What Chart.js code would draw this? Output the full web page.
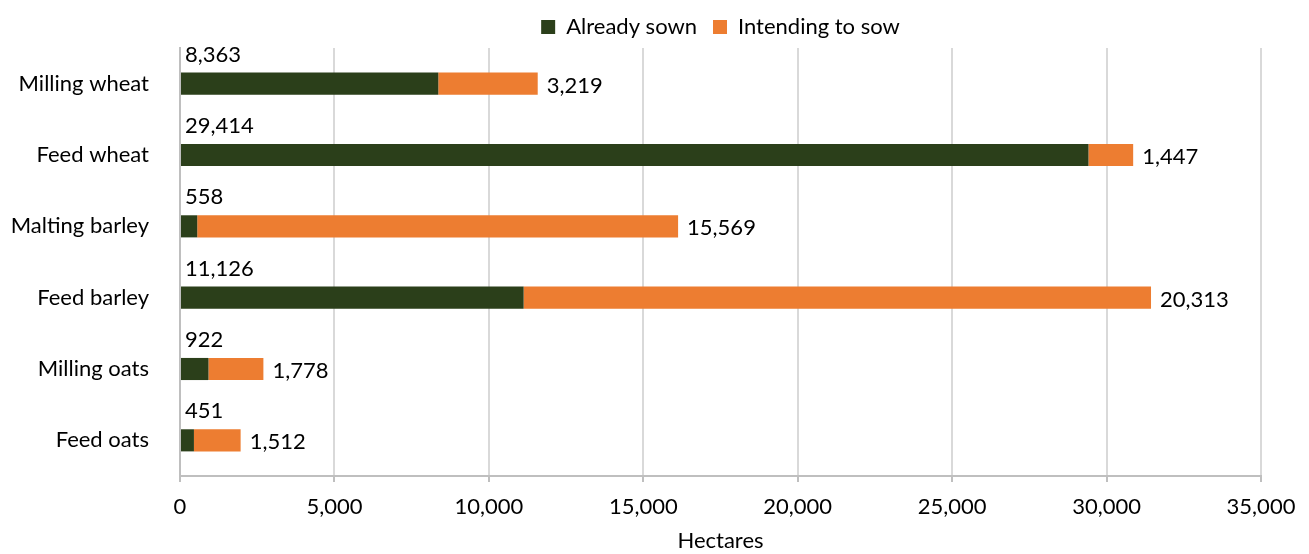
<!DOCTYPE html>
<html>
<head>
<meta charset="utf-8">
<script src="https://cdn.jsdelivr.net/npm/chart.js@4/dist/chart.umd.min.js"></script>
<style>
  html, body { margin: 0; padding: 0; background: #fff; }
  #wrap { width: 1309px; height: 554px; }
</style>
</head>
<body>
<div id="wrap"><canvas id="myChart" width="1309" height="554"></canvas></div>
<script>
var categories = ["Milling wheat", "Feed wheat", "Malting barley", "Feed barley", "Milling oats", "Feed oats"];
var alreadySown = [8363, 29414, 558, 11126, 922, 451];
var intendingToSow = [3219, 1447, 15569, 20313, 1778, 1512];
var xTicks = [0, 5000, 10000, 15000, 20000, 25000, 30000, 35000];

var fontFamily = "Lato, 'Open Sans', sans-serif";

function fmt(v) { return v.toLocaleString('en-US'); }

// draws the value labels: sown above the bar start, intending after the bar end
var valueLabels = {
  id: 'valueLabels',
  afterDatasetsDraw: function(chart) {
    var ctx = chart.ctx;
    var xScale = chart.scales.x;
    ctx.save();
    ctx.font = "22px " + fontFamily;
    ctx.fillStyle = '#000';
    ctx.textBaseline = 'middle';
    ctx.textAlign = 'left';
    chart.getDatasetMeta(0).data.forEach(function(bar, i) {
      ctx.fillText(fmt(alreadySown[i]), xScale.getPixelForValue(0) + 5, bar.y - 29);
    });
    chart.getDatasetMeta(1).data.forEach(function(bar, i) {
      ctx.fillText(fmt(intendingToSow[i]), bar.x + 9, bar.y + 2);
    });
    ctx.restore();
  }
};

var ctx = document.getElementById("myChart").getContext('2d');

var myChart = new Chart(ctx, {
  type: 'bar',
  data: {
    labels: categories,
    datasets: [{
      label: 'Already sown',
      data: alreadySown,
      backgroundColor: '#2B3F1A',
      barPercentage: 0.31,
      categoryPercentage: 1
    }, {
      label: 'Intending to sow',
      data: intendingToSow,
      backgroundColor: '#ED7D31',
      barPercentage: 0.31,
      categoryPercentage: 1
    }]
  },
  options: {
    indexAxis: 'y',
    responsive: false,
    animation: false,
    layout: { padding: { top: 0, right: 48, bottom: 0, left: 0 } },
    plugins: {
      tooltip: { enabled: false },
      legend: {
        position: 'top',
        fullSize: false,
        labels: {
          color: '#000',
          font: { family: fontFamily, size: 22 },
          boxWidth: 14,
          boxHeight: 14,
          padding: 16
        }
      }
    },
    scales: {
      x: {
        stacked: true,
        min: 0,
        max: 35000,
        afterBuildTicks: function(scale) {
          scale.ticks = xTicks.map(function(v) { return { value: v }; });
        },
        afterFit: function(scale) { scale.height = 78; },
        grid: { color: '#D9D9D9', lineWidth: 2, tickLength: 6, tickColor: '#BFBFBF' },
        border: { color: '#BFBFBF', width: 2 },
        ticks: {
          color: '#000',
          font: { family: fontFamily, size: 22 },
          padding: 12,
          maxRotation: 0,
          callback: function(v) { return fmt(v); }
        },
        title: {
          display: true,
          text: 'Hectares',
          color: '#000',
          font: { family: fontFamily, size: 22 },
          padding: { top: 6, bottom: 0 }
        }
      },
      y: {
        stacked: true,
        afterFit: function(scale) { scale.width = 180; },
        grid: { display: false },
        border: { display: true, color: '#BFBFBF', width: 2 },
        ticks: {
          color: '#000',
          font: { family: fontFamily, size: 22 },
          padding: 23
        }
      }
    }
  },
  plugins: [valueLabels]
});
</script>
</body>
</html>
